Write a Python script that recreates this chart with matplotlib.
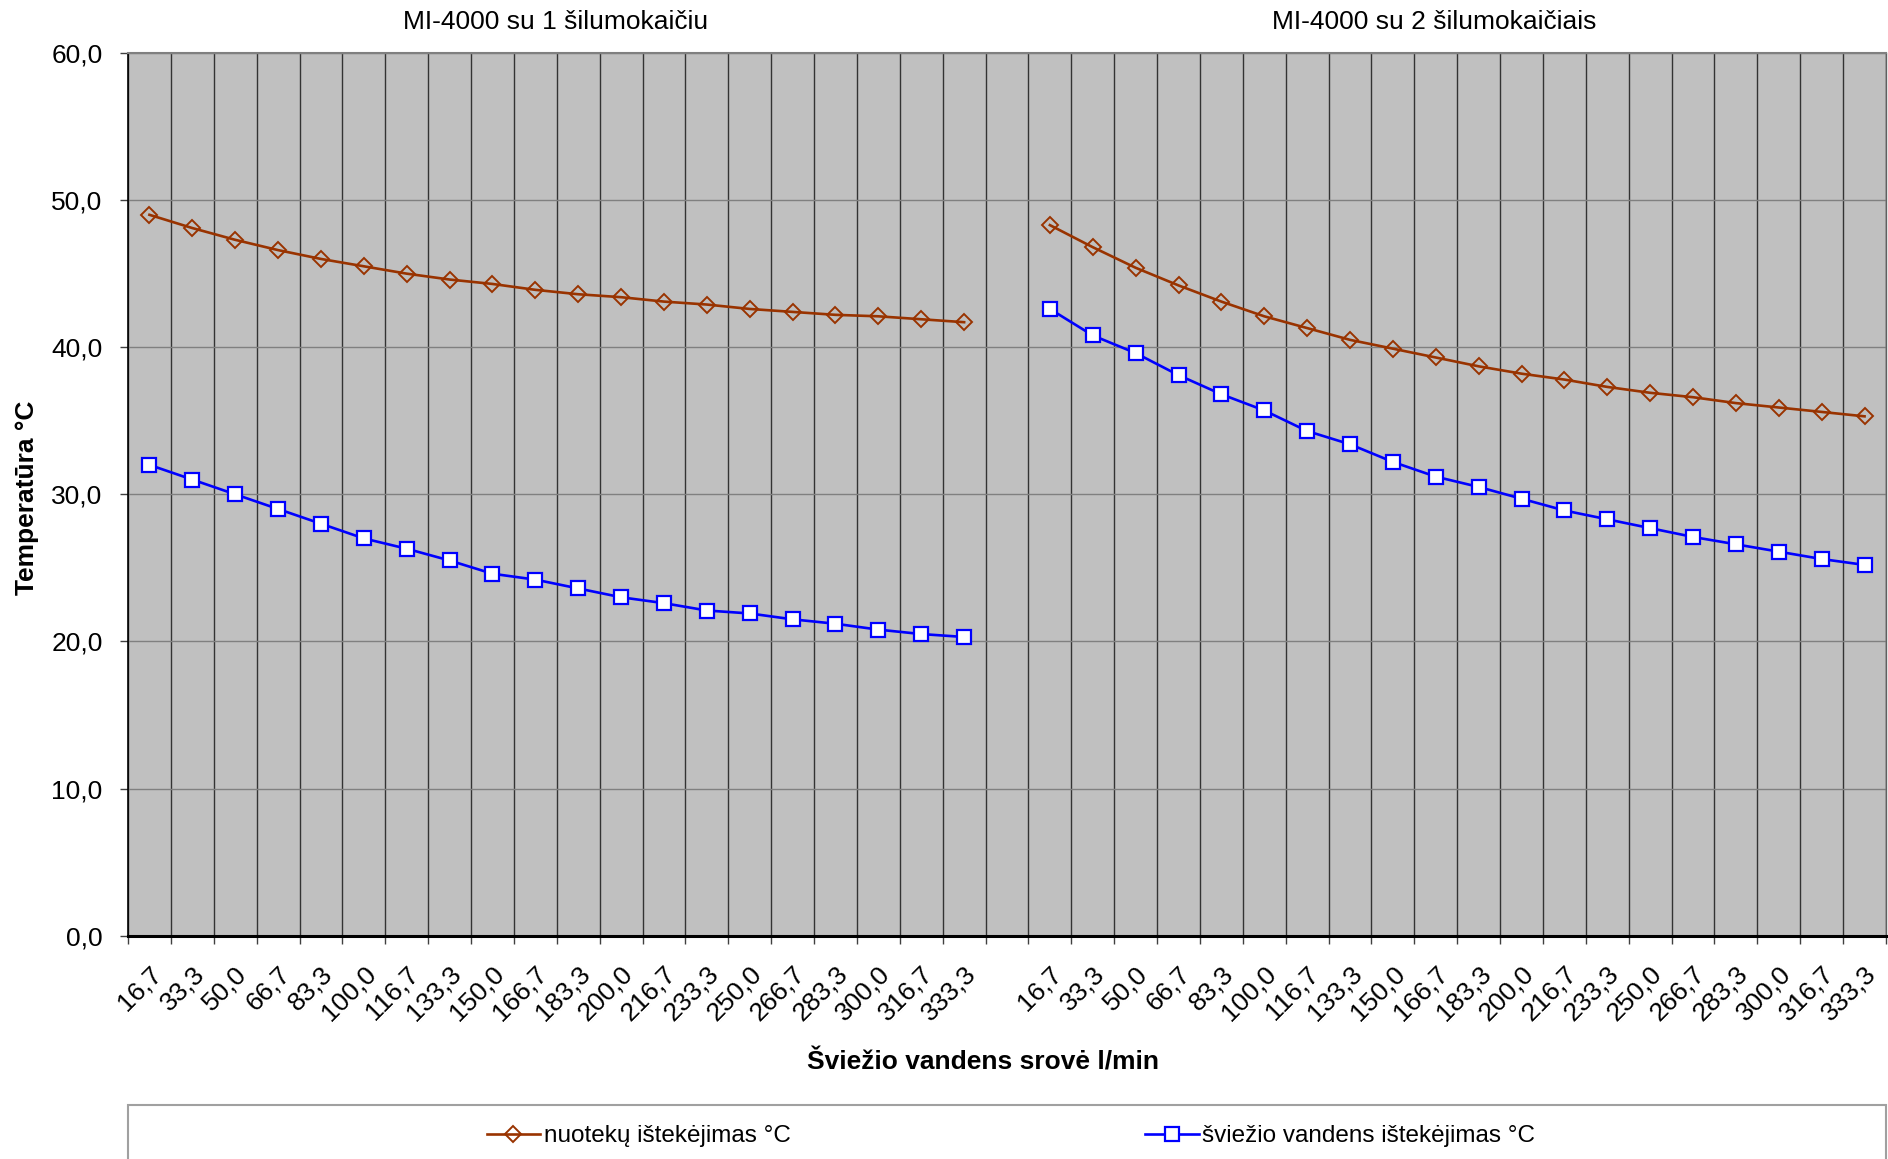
import matplotlib
matplotlib.use("Agg")
import matplotlib.pyplot as plt
from matplotlib.patches import Rectangle
from matplotlib.lines import Line2D
import matplotlib.transforms as mtransforms

plt.rcParams['font.family'] = ['Liberation Sans', 'DejaVu Sans']

# ---------------- data ----------------
flow_labels = ["16,7", "33,3", "50,0", "66,7", "83,3", "100,0", "116,7", "133,3",
               "150,0", "166,7", "183,3", "200,0", "216,7", "233,3", "250,0",
               "266,7", "283,3", "300,0", "316,7", "333,3"]

panel_titles = ["MI-4000 su 1 šilumokaičiu", "MI-4000 su 2 šilumokaičiais"]

waste_1 = [49.0, 48.1, 47.3, 46.6, 46.0, 45.5, 45.0, 44.6, 44.3, 43.9,
           43.6, 43.4, 43.1, 42.9, 42.6, 42.4, 42.2, 42.1, 41.9, 41.7]
fresh_1 = [32.0, 31.0, 30.0, 29.0, 28.0, 27.0, 26.3, 25.5, 24.6, 24.2,
           23.6, 23.0, 22.6, 22.1, 21.9, 21.5, 21.2, 20.8, 20.5, 20.3]
waste_2 = [48.3, 46.8, 45.4, 44.2, 43.1, 42.1, 41.3, 40.5, 39.9, 39.3,
           38.7, 38.2, 37.8, 37.3, 36.9, 36.6, 36.2, 35.9, 35.6, 35.3]
fresh_2 = [42.6, 40.8, 39.6, 38.1, 36.8, 35.7, 34.3, 33.4, 32.2, 31.2,
           30.5, 29.7, 28.9, 28.3, 27.7, 27.1, 26.6, 26.1, 25.6, 25.2]

series_names = ["nuotekų ištekėjimas °C", "šviežio vandens ištekėjimas °C"]

y_ticks = [0, 10, 20, 30, 40, 50, 60]
y_tick_labels = ["0,0", "10,0", "20,0", "30,0", "40,0", "50,0", "60,0"]

y_label = "Temperatūra °C"
x_label = "Šviežio vandens srovė l/min"

# ---------------- figure ----------------
W, H = 1888, 1159
DPI = 100
fig = plt.figure(figsize=(W / DPI, H / DPI), dpi=DPI)

L, R, T, B = 128, 1886, 53, 935.6
ax = fig.add_axes([L / W, 1 - B / H, (R - L) / W, (B - T) / H])
ax.set_facecolor("#C0C0C0")

n = len(flow_labels)
x1 = list(range(n))
x2 = [n + 1 + i for i in range(n)]
all_x = x1 + [n] + x2
all_labels = flow_labels + [""] + flow_labels

WASTE_C = "#993300"
FRESH_C = "#0000FF"

lw_line = 1.9
kw_w = dict(color=WASTE_C, lw=lw_line, marker="D", ms=8.5, mfc="none",
            mec=WASTE_C, mew=1.4, zorder=4)
kw_f = dict(color=FRESH_C, lw=lw_line, marker="s", ms=10.5, mfc="white",
            mec=FRESH_C, mew=1.6, zorder=5)

ax.plot(x1, waste_1, **kw_w)
ax.plot(x1, fresh_1, **kw_f)
ax.plot(x2, waste_2, **kw_w)
ax.plot(x2, fresh_2, **kw_f)

total = 2 * n + 1
ax.set_xlim(-0.5, total - 0.5)
ax.set_ylim(0, 60)

# category ticks
ax.set_xticks(all_x)
ax.set_xticklabels(all_labels, rotation=45, ha="right", va="baseline",
                   rotation_mode="anchor", fontsize=19)
ax.tick_params(axis="x", which="major", length=0, pad=28.5)
shift = mtransforms.ScaledTranslation(13 / DPI, 0, fig.dpi_scale_trans)
for lab in ax.get_xticklabels():
    lab.set_transform(lab.get_transform() + shift)
bounds = [i - 0.5 for i in range(total + 1)]
ax.set_xticks(bounds, minor=True)
ax.tick_params(axis="x", which="minor", length=5.8, width=1, color="#404040", direction="out")

ax.set_yticks(y_ticks)
ax.set_yticklabels(y_tick_labels, fontsize=19)
ax.tick_params(axis="y", which="major", length=5.8, width=1, color="#404040", pad=12.5)

ax.grid(True, axis="x", which="minor", color="#333333", lw=1.0, zorder=1)
ax.grid(True, axis="y", which="major", color="#808080", lw=1.0, zorder=1)
ax.grid(False, axis="x", which="major")
ax.set_axisbelow(True)

ax.spines["top"].set_color("#808080")
ax.spines["top"].set_linewidth(1.5)
ax.spines["right"].set_color("#606060")
ax.spines["right"].set_linewidth(1.0)
ax.spines["left"].set_color("#000000")
ax.spines["left"].set_linewidth(1.2)
ax.spines["bottom"].set_color("#000000")
ax.spines["bottom"].set_linewidth(2.2)

# panel titles
fig.text(556 / W, 1 - 22 / H, panel_titles[0], ha="center", va="center", fontsize=19)
fig.text(1434 / W, 1 - 22 / H, panel_titles[1], ha="center", va="center", fontsize=19)

# axis titles
fig.text(27 / W, 1 - 498 / H, y_label, ha="center", va="center", rotation=90,
         fontsize=19, fontweight="bold")
fig.text(983 / W, 1 - 1062 / H, x_label, ha="center", va="center",
         fontsize=19, fontweight="bold")

# legend box
fig.patches.append(Rectangle((L / W, -0.05), (R - L) / W, 0.05 + 1 - 1105 / H,
                             transform=fig.transFigure, facecolor="white",
                             edgecolor="#A0A0A0", lw=1.5, zorder=0))

h_w = Line2D([], [], color=WASTE_C, lw=lw_line, marker="D", ms=8, mfc="none",
             mec=WASTE_C, mew=1.4)
h_f = Line2D([], [], color=FRESH_C, lw=lw_line, marker="s", ms=10, mfc="white",
             mec=FRESH_C, mew=1.6)
fig.legend([h_w, h_f], series_names, loc="center", bbox_to_anchor=(1011 / W, 1 - 1136 / H),
           ncol=2, frameon=False, fontsize=17.5, handlelength=2.2, handletextpad=0.15,
           columnspacing=14.6, borderpad=0)

fig.savefig("out.png", dpi=DPI)
